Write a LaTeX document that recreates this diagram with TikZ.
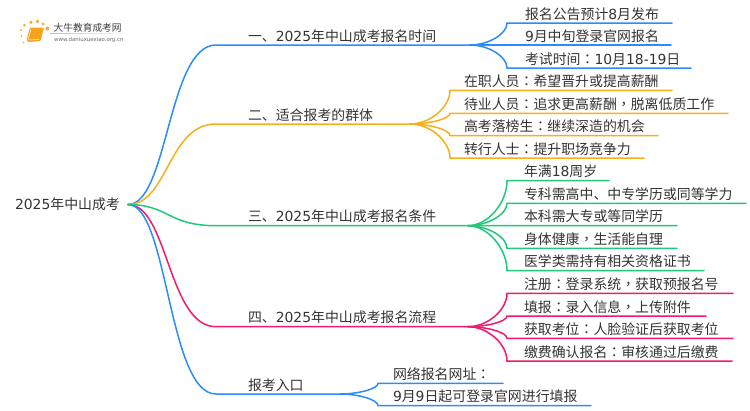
\documentclass[tikz,border=0pt]{standalone}
\usepackage{fontspec}
\setmainfont{Noto Sans CJK SC}[Scale=1]
\newfontfamily\ltnfont{DejaVu Sans}
\newfontfamily\tcfont{Noto Sans CJK TC}
\newcommand{\ltn}[1]{{\ltnfont #1}}
\newcommand{\cma}{{\tcfont ，}}
\newcommand{\cln}{{\tcfont ：}}
\definecolor{cblue}{HTML}{2A8CFF}
\definecolor{corange}{HTML}{F9AE1A}
\definecolor{cgreen}{HTML}{22C77A}
\definecolor{cpink}{HTML}{F5196E}
\definecolor{ctext}{HTML}{333333}
\definecolor{clogo}{HTML}{F7A21B}
\tikzset{
  label/.style={anchor=base west,inner sep=0pt,outer sep=0pt,text=ctext,font=\fontsize{13.9}{16}\selectfont},
  link/.style={line width=1.5pt,line cap=round},
  sun/.style={fill=#1,draw=none,opacity=0.9}
}
% \leafnode{name}{hub}{colour}{hub x}{curve end x}{line end x}{y}{text x}{text}
\newcommand{\leafnode}[9]{%
  \coordinate (#1s) at (#5,#7);
  \coordinate (#1e) at (#6,#7);
  \node[label] (#1) at (#8,#7-4) {#9};
  \draw[link,#3] (#2) .. controls ($(#2)!0.5!(#2-|#1s)$) and ($(#1s)!0.5!(#2-|#1s)$) .. (#1s) -- (#1e);
}
% \trunknode{name}{colour}{y}{hub x}{text}
\newcommand{\trunknode}[5]{%
  \coordinate (#1s) at (216,#3);
  \coordinate (#1) at (#4,#3);
  \node[label] (#1t) at (248,#3-4) {#5};
  \draw[link,#2] (root) .. controls (168,204.5) and (168,#3) .. (#1s) -- (#1);
}
\usetikzlibrary{calc}
\begin{document}
\begin{tikzpicture}[x=1pt,y=-1pt]
\useasboundingbox (0,0) rectangle (750,410);
\node[label] (roottext) at (15,209.5) {\ltn{2025}年中山成考};
\coordinate (root) at (128,204.5);

\trunknode{a}{cblue}{45}{470}{一、\ltn{2025}年中山成考报名时间}
\trunknode{b}{corange}{124}{410}{二、适合报考的群体}
\trunknode{d}{cpink}{326.7}{468}{四、\ltn{2025}年中山成考报名流程}
\trunknode{f}{cblue}{394}{340}{报考入口}
\trunknode{c}{cgreen}{225.7}{468}{三、\ltn{2025}年中山成考报名条件}

\leafnode{a1}{a}{cblue}{470}{507}{672}{23}{525}{报名公告预计\ltn{8}月发布}
\leafnode{a2}{a}{cblue}{470}{507}{671}{45}{525}{\ltn{9}月中旬登录官网报名}
\leafnode{a3}{a}{cblue}{470}{507}{691}{68}{525}{考试时间\cln\ltn{10}月\ltn{18-19}日}

\leafnode{b1}{b}{corange}{410}{450}{672}{90.3}{464}{在职人员\cln 希望晋升或提高薪酬}
\leafnode{b2}{b}{corange}{410}{450}{728}{113.3}{464}{待业人员\cln 追求更高薪酬\cma 脱离低质工作}
\leafnode{b3}{b}{corange}{410}{450}{658}{135.7}{464}{高考落榜生\cln 继续深造的机会}
\leafnode{b4}{b}{corange}{410}{450}{644}{158}{464}{转行人士\cln 提升职场竞争力}

\leafnode{c1}{c}{cgreen}{468}{507}{609}{180.7}{524}{年满\ltn{18}周岁}
\leafnode{c2}{c}{cgreen}{468}{507}{746}{203.3}{524}{专科需高中、中专学历或同等学力}
\leafnode{c3}{c}{cgreen}{468}{507}{677}{225.7}{524}{本科需大专或等同学历}
\leafnode{c4}{c}{cgreen}{468}{507}{677}{248.3}{524}{身体健康\cma 生活能自理}
\leafnode{c5}{c}{cgreen}{468}{507}{704}{270.7}{524}{医学类需持有相关资格证书}

\leafnode{d1}{d}{cpink}{468}{507}{733}{293.3}{524}{注册\cln 登录系统\cma 获取预报名号}
\leafnode{d2}{d}{cpink}{468}{507}{706}{316}{524}{填报\cln 录入信息\cma 上传附件}
\leafnode{d3}{d}{cpink}{468}{507}{733}{338.3}{524}{获取考位\cln 人脸验证后获取考位}
\leafnode{d4}{d}{cpink}{468}{507}{732}{361}{524}{缴费确认报名\cln 审核通过后缴费}

\leafnode{f1}{f}{cblue}{340}{378}{503}{383.3}{393}{网络报名网址\cln}
\leafnode{f2}{f}{cblue}{340}{378}{591}{405.7}{393}{\ltn{9}月\ltn{9}日起可登录官网进行填报}

% logo
\foreach \px/\py/\pr in {21.5/36/1,21/30/1.2,24.5/25/1.5,31/22.3/1.8,37.5/21.5/1.8,43/24/1.6,47.5/28.5/2}
  \fill[sun=clogo] (\px,\py) circle (\pr);
\fill[sun=clogo] (23.5,42.5) circle (0.9);
\path[fill=clogo,rounded corners=1pt] (30,27.5) -- (44,27.5) -- (40.5,41) -- (28,42) -- (26.5,40) -- cycle;
\draw[white,line width=0.5pt] (31,29.5) -- (28,39.5);
\draw[white,line width=0.5pt] (28,40) -- (39,39.5);
\node[inner sep=0pt,anchor=base west,text=black!75,font=\fontsize{9.7}{11}\selectfont] (logotitle) at (53.5,31) {大牛教育成考网};
\shade[left color=black!25,right color=white,draw=none] (50,33) rectangle (134,33.6);
\node[inner sep=0pt,anchor=base west,text=black!60,font=\ltnfont\fontsize{5.4}{7}\selectfont] (logourl) at (54,41) {www.daniuxuexiao.org.cn};
\end{tikzpicture}
\end{document}
